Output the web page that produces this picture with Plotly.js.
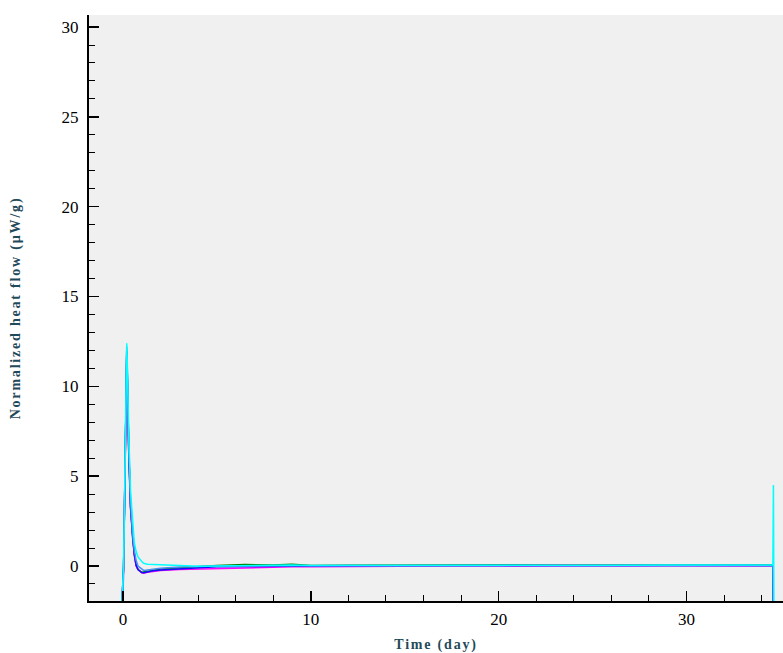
<!DOCTYPE html>
<html>
<head>
<meta charset="utf-8">
<script src="https://cdn.plot.ly/plotly-3.0.1.min.js"></script>
<style>html,body{margin:0;padding:0;background:#fff;}#chart{width:783px;height:653px;}
.xtitle,.ytitle{letter-spacing:1.8px;}</style>
</head>
<body>
<div id="chart"></div>
<script>
// Time (day)
const timeDays = [-0.1, -0.03, 0.03, 0.1, 0.15, 0.2, 0.25, 0.3, 0.4, 0.5, 0.6, 0.7, 0.8, 1.0, 1.1, 1.3, 1.6, 2.0, 3.0, 4.0, 5.0, 6.5, 8.0, 9.0, 10, 12, 14, 16, 18, 19.5, 21, 23, 25, 27, 29, 31, 33, 34.5, 34.6, 34.63, 34.66];

// Normalized heat flow (µW/g) per sample
const seriesGreen = [-3, -1.8, -0.1, 4.6, 9.8, 11.9, 9.6, 6.6, 3.3, 1.65, 0.65, 0.02, -0.2, -0.35, -0.33, -0.28, -0.22, -0.17, -0.1, -0.03, 0.02, 0.08, 0.05, 0.1, 0.03, 0.04, 0.05, 0.06, 0.05, 0.08, 0.05, 0.04, 0.05, 0.04, 0.06, 0.05, 0.06, 0.05, 0.05, -3, -3];
const seriesMagenta = [-3, -1.8, -0.2, 4.5, 9.5, 11.8, 9.5, 6.5, 3.2, 1.6, 0.6, 0.0, -0.2, -0.38, -0.4, -0.35, -0.3, -0.25, -0.2, -0.17, -0.14, -0.12, -0.08, -0.05, -0.05, -0.03, -0.02, 0.0, -0.01, 0.01, -0.02, 0.0, -0.02, 0.0, 0.01, 0.0, 0.01, 0.0, 0.0, -3, -3];
const seriesBlue = [-3, -1.8, -0.1, 4.8, 10, 12.0, 9.8, 6.8, 3.4, 1.7, 0.7, 0.05, -0.2, -0.37, -0.38, -0.33, -0.27, -0.22, -0.15, -0.1, -0.05, -0.03, 0.0, 0.02, 0.0, 0.01, 0.02, 0.02, 0.03, 0.03, 0.02, 0.03, 0.02, 0.02, 0.03, 0.02, 0.03, 0.02, 0.02, -3, -3];
const seriesLightBlue = [-3, -2.5, -0.5, 5, 10.3, 12.2, 10, 7, 3.6, 1.9, 0.9, 0.3, 0.0, -0.2, -0.25, -0.22, -0.18, -0.12, -0.06, -0.02, 0.0, 0.0, 0.01, 0.02, 0.01, 0.02, 0.01, 0.02, 0.02, 0.03, 0.02, 0.02, 0.01, 0.02, 0.02, 0.01, 0.02, 0.01, 0.01, -3, -3];
const seriesCyan = [-3, -1.5, 0.0, 5, 10.5, 12.4, 10.5, 7.5, 4.2, 2.4, 1.3, 0.8, 0.5, 0.25, 0.15, 0.1, 0.08, 0.06, 0.02, -0.02, 0.0, 0.02, 0.03, 0.05, 0.02, 0.03, 0.02, 0.04, 0.03, 0.05, 0.04, 0.03, 0.02, 0.04, 0.05, 0.04, 0.03, 0.05, 0.05, 4.5, -3];

const seriesList = [
  {name: 'S1', y: seriesGreen, color: '#008000'},
  {name: 'S2', y: seriesMagenta, color: '#ff00ff'},
  {name: 'S3', y: seriesBlue, color: '#1010ff'},
  {name: 'S4', y: seriesLightBlue, color: '#4a90f0'},
  {name: 'S5', y: seriesCyan, color: '#00ffff'}
];

const traces = seriesList.map(s => ({
  x: timeDays, y: s.y, name: s.name, type: 'scatter', mode: 'lines',
  line: {color: s.color, width: 1.5}, showlegend: false
}));

const tickFont = {family: 'Liberation Serif, Times New Roman, serif', size: 17, color: '#000'};
const titleFont = {family: 'Liberation Serif, Times New Roman, serif', size: 14, color: '#1f4a5a', weight: 'bold'};

const layout = {
  width: 783, height: 653,
  margin: {l: 89, r: 0, t: 15, b: 52},
  paper_bgcolor: '#ffffff',
  plot_bgcolor: '#f0f0f0',
  xaxis: {
    range: [-1.81, 35.14],
    tickvals: [0, 10, 20, 30],
    ticks: 'inside', ticklen: 10, tickwidth: 1.5, tickcolor: '#000',
    minor: {dtick: 2, tick0: 0, ticks: 'inside', ticklen: 6, tickwidth: 1, tickcolor: '#000'},
    showline: true, linecolor: '#000', linewidth: 2,
    showgrid: false, zeroline: false,
    tickfont: tickFont, ticklabelstandoff: 2,
    title: {text: '<b>Time (day)</b>', font: titleFont, standoff: 14}
  },
  yaxis: {
    range: [-1.95, 30.67],
    tickvals: [0, 5, 10, 15, 20, 25, 30],
    ticks: 'inside', ticklen: 10, tickwidth: 1.5, tickcolor: '#000',
    minor: {dtick: 1, tick0: 0, ticks: 'inside', ticklen: 6, tickwidth: 1, tickcolor: '#000'},
    showline: true, linecolor: '#000', linewidth: 2,
    showgrid: false, zeroline: false,
    tickfont: tickFont, ticklabelstandoff: 5,
    title: {text: '<b>Normalized heat flow (µW/g)</b>', font: titleFont, standoff: 38}
  }
};

Plotly.newPlot('chart', traces, layout, {displayModeBar: false, staticPlot: true});
</script>
</body>
</html>
